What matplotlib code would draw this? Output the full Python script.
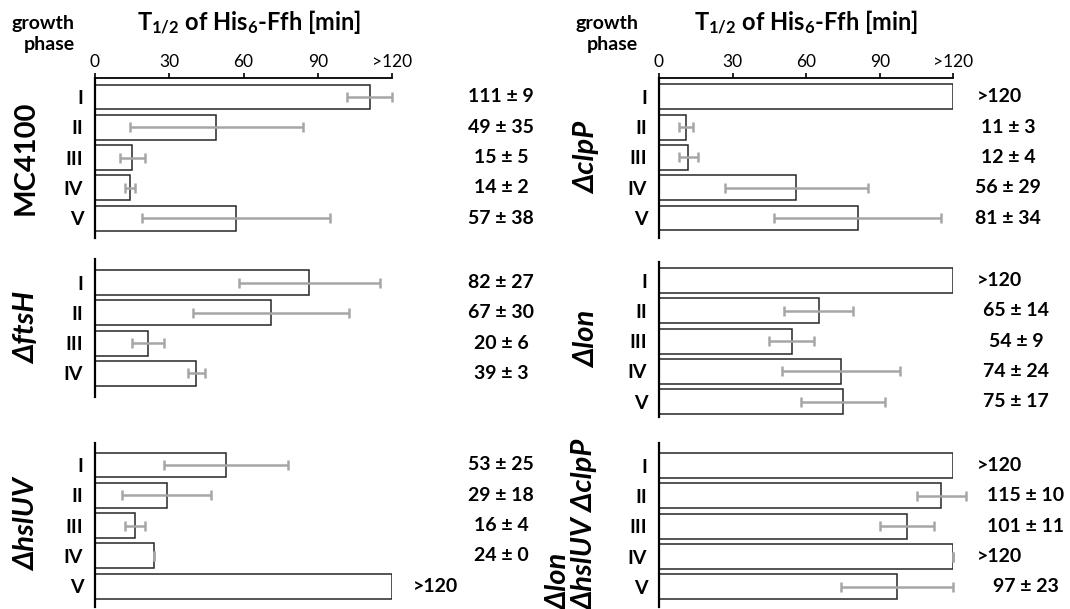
import numpy as np
import matplotlib
matplotlib.use("Agg")
import matplotlib.pyplot as plt
from matplotlib import transforms

plt.rcParams['font.family'] = ['Lato', 'DejaVu Sans']
plt.rcParams['mathtext.fontset'] = 'custom'
plt.rcParams['mathtext.rm'] = 'Lato:bold'
plt.rcParams['mathtext.bf'] = 'Lato:bold'
plt.rcParams['mathtext.default'] = 'rm'

# --- data (half-life of His6-Ffh in minutes, bar lengths as drawn) ---
phases5 = ['I', 'II', 'III', 'IV', 'V']
phases4 = ['I', 'II', 'III', 'IV']

mc4100_mean = [111, 49, 15, 14, 57]
mc4100_err = [9, 35, 5, 2, 38]
mc4100_text = ['111 ± 9', '49 ± 35', '15 ± 5', '14 ± 2', '57 ± 38']

ftsh_mean = [86.5, 71, 21.5, 41]
ftsh_err = [28.5, 31.5, 6.5, 3.5]
ftsh_text = ['82 ± 27', '67 ± 30', '20 ± 6', '39 ± 3']

hsluv_mean = [53, 29, 16, 24, 120]
hsluv_err = [25, 18, 4, 0, np.nan]
hsluv_text = ['53 ± 25', '29 ± 18', '16 ± 4', '24 ± 0', '>120']

clpp_mean = [120, 11, 12, 56, 81]
clpp_err = [np.nan, 3, 4, 29, 34]
clpp_text = ['>120', '11 ± 3', '12 ± 4', '56 ± 29', '81 ± 34']

lon_mean = [120, 65, 54, 74, 75]
lon_err = [np.nan, 14, 9, 24, 17]
lon_text = ['>120', '65 ± 14', '54 ± 9', '74 ± 24', '75 ± 17']

triple_mean = [120, 115, 101, 120, 97]
triple_err = [np.nan, 10, 11, 0, 23]
triple_text = ['>120', '115 ± 10', '101 ± 11', '>120', '97 ± 23']

xticks = [0, 30, 60, 90, 120]
xticklabels = ['0', '30', '60', '90', '>120']

# --- layout in pixels ---
W, H = 1070, 609
PITCH = 30.3

fig = plt.figure(figsize=(W / 100, H / 100), dpi=100)


def draw_group(x0, x1, top, bottom, first, mean, err, text, phases,
               label_x, name, name_x, italic, show_axis, more_x=None):
    ax = fig.add_axes([x0 / W, 1 - bottom / H, (x1 - x0) / W, (bottom - top) / H])
    idx = np.arange(len(mean))
    mean = np.asarray(mean, float)
    err = np.asarray(err, float)
    ax.barh(idx, mean, height=0.825, color='white', edgecolor='#262626',
            linewidth=1.1, zorder=2)
    ok = ~np.isnan(err)
    ax.errorbar(mean[ok], idx[ok], xerr=err[ok], fmt='none', ecolor='#a6a6a6',
                elinewidth=1.8, capsize=3.4, capthick=1.8, clip_on=False, zorder=3)
    ax.set_xlim(0, 120)
    ax.set_ylim((bottom - first) / PITCH, (top - first) / PITCH)
    ax.set_yticks(idx, labels=phases, fontsize=14, fontweight='bold')
    ax.tick_params(axis='y', length=0, pad=8.5)
    for s in ['right', 'bottom']:
        ax.spines[s].set_visible(False)
    ax.spines['left'].set_linewidth(1.6)
    if show_axis:
        ax.xaxis.tick_top()
        ax.set_xticks(xticks, labels=xticklabels, fontsize=12.5)
        ax.tick_params(axis='x', direction='out', length=3.6, width=1.2, pad=2)
        ax.spines['top'].set_linewidth(1.3)
    else:
        ax.spines['top'].set_visible(False)
        ax.xaxis.set_visible(False)

    tr = transforms.blended_transform_factory(fig.transFigure, ax.transData)
    for i, t in enumerate(text):
        if t.startswith('>') and more_x is not None:
            ax.text(more_x / W, i, t, transform=tr, ha='left', va='center',
                    fontsize=14, fontweight='bold')
        else:
            ax.text(label_x / W, i, t, transform=tr, ha='center', va='center',
                    fontsize=14, fontweight='bold')

    mid = 1 - ((top + bottom) / 2) / H
    fig.text(name_x / W, mid, name, rotation=90, ha='center', va='center',
             fontsize=21, fontweight='bold',
             fontstyle='italic' if italic else 'normal',
             multialignment='left', linespacing=1.0)
    return ax


L0, L1 = 95, 392
R0, R1 = 659, 953.5

draw_group(L0, L1, 78, 238, 97, mc4100_mean, mc4100_err, mc4100_text, phases5,
           501, 'MC4100', 26, False, True)
draw_group(L0, L1, 259, 397, 282.5, ftsh_mean, ftsh_err, ftsh_text, phases4,
           501, 'ΔftsH', 27, True, False)
draw_group(L0, L1, 443, 607, 465, hsluv_mean, hsluv_err, hsluv_text, phases5,
           501, 'ΔhslUV', 27, True, False, more_x=413)

draw_group(R0, R1, 78, 238, 96.8, clpp_mean, clpp_err, clpp_text, phases5,
           1008, 'ΔclpP', 587, True, True, more_x=977)
draw_group(R0, R1, 262, 417, 280.5, lon_mean, lon_err, lon_text, phases5,
           1016, 'Δlon', 587, True, False, more_x=977)
draw_group(R0, R1, 443, 607, 465.6, triple_mean, triple_err, triple_text, phases5,
           1026, 'Δlon\nΔhslUV ΔclpP', 572, True, False, more_x=977)

title = 'T$_{1/2}$ of His$_6$-Ffh [min]'
for cx in [(L0 + L1) / 2 + 6, (R0 + R1) / 2]:
    fig.text(cx / W, 1 - 23 / H, title, ha='center', va='center',
             fontsize=17, fontweight='bold')
for rx in [75, 638]:
    fig.text(rx / W, 1 - 34 / H, 'growth\nphase', ha='right', va='center',
             multialignment='right', fontsize=14, fontweight='bold',
             linespacing=1.3)

fig.savefig('out.png', dpi=100, facecolor='white')
